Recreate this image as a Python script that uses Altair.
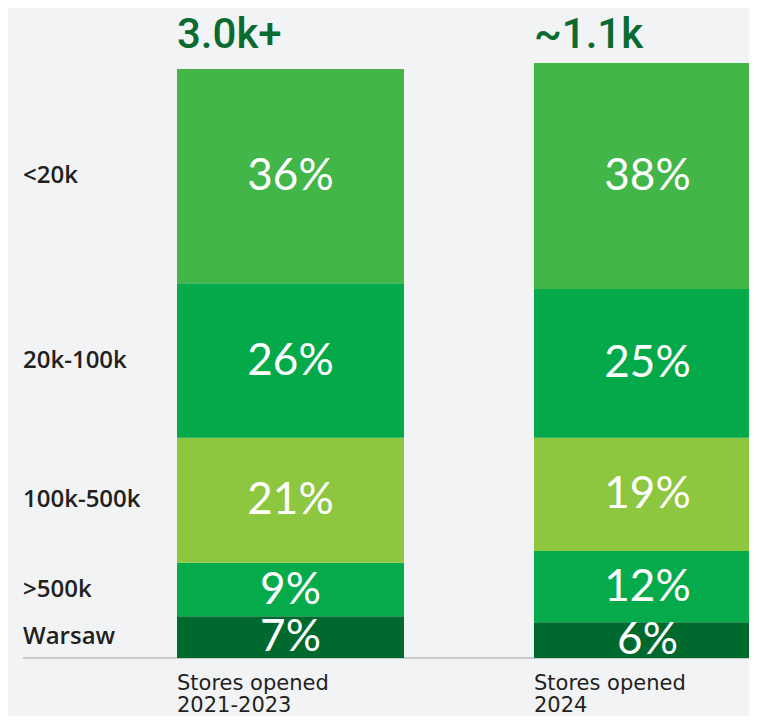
import altair as alt
import pandas as pd

groups = ["2021-2023", "2024"]
categories = ["Warsaw", ">500k", "100k-500k", "20k-100k", "<20k"]  # bottom to top
share_2021_2023 = [7, 9, 21, 26, 36]
share_2024 = [6, 12, 19, 25, 38]
totals = ["3.0k+", "~1.1k"]
bottom_line1 = ["Stores opened", "Stores opened"]
bottom_line2 = ["2021-2023", "2024"]
colors = ["#006a2e", "#05ab4b", "#8dc63f", "#04aa4a", "#43b649"]

rows = []
for g, vals in zip(groups, [share_2021_2023, share_2024]):
    for i, (c, v) in enumerate(zip(categories, vals)):
        rows.append({"group": g, "category": c, "value": v, "order": i, "label": f"{v}%"})
df = pd.DataFrame(rows)
meta = pd.DataFrame({"group": groups, "total": totals, "l1": bottom_line1, "l2": bottom_line2})

W, H = 741, 708
xscale = alt.Scale(domain=groups, range=[169, 753], paddingInner=130 / 357, paddingOuter=0)
yscale = alt.Scale(domain=[0, 100], range=[650, 55], nice=False, zero=True)

base = alt.Chart(df).transform_stack(
    stack="value", groupby=["group"], as_=["y0", "y1"], sort=[alt.SortField("order", "ascending")]
).transform_calculate(mid="(datum.y0 + datum.y1) / 2")

bars = base.mark_bar(stroke=None).encode(
    x=alt.X("group:N", scale=xscale, axis=None),
    y=alt.Y("y0:Q", scale=yscale, axis=None),
    y2="y1:Q",
    color=alt.Color("category:N", scale=alt.Scale(domain=categories, range=colors), legend=None),
)

pct = base.mark_text(font="Lato", fontSize=44, color="white", baseline="middle", dy=1).encode(
    x=alt.X("group:N", scale=xscale, axis=None),
    y=alt.Y("mid:Q", scale=yscale, axis=None),
    text="label:N",
)

cat_labels = base.transform_filter(alt.datum.group == groups[0]).mark_text(
    font="Open Sans", fontWeight=600, fontSize=24, color="#231f20", align="left", baseline="middle"
).encode(
    x=alt.value(15),
    y=alt.Y("mid:Q", scale=yscale, axis=None),
    text="category:N",
)

rule = alt.Chart(meta).mark_rule(color="#c8c8ca", strokeWidth=1.5).encode(
    x=alt.value(15), x2=alt.value(W), y=alt.value(650)
)

top = alt.Chart(meta).mark_text(
    font="Roboto", fontWeight=500, fontSize=42, color="#0a6a2f", align="left", baseline="middle"
).encode(
    x=alt.X("group:N", scale=xscale, axis=None, bandPosition=0),
    y=alt.value(27),
    text="total:N",
)

bottom1 = alt.Chart(meta).mark_text(
    font="DejaVu Sans", fontSize=21, color="#231f20", align="left", baseline="alphabetic",
).encode(
    x=alt.X("group:N", scale=xscale, axis=None, bandPosition=0),
    y=alt.value(682),
    text="l1:N",
)

bottom2 = alt.Chart(meta).mark_text(
    font="DejaVu Sans", fontSize=21, color="#231f20", align="left", baseline="alphabetic",
).encode(
    x=alt.X("group:N", scale=xscale, axis=None, bandPosition=0),
    y=alt.value(704),
    text="l2:N",
)

chart = alt.layer(rule, bars, pct, cat_labels, top, bottom1, bottom2).properties(
    width=W, height=H, autosize=alt.AutoSizeParams(type="none"), padding=0, background="#f2f3f5"
).configure_view(stroke=None)

chart.save("out.html", embed_options={"renderer": "svg", "actions": False})
